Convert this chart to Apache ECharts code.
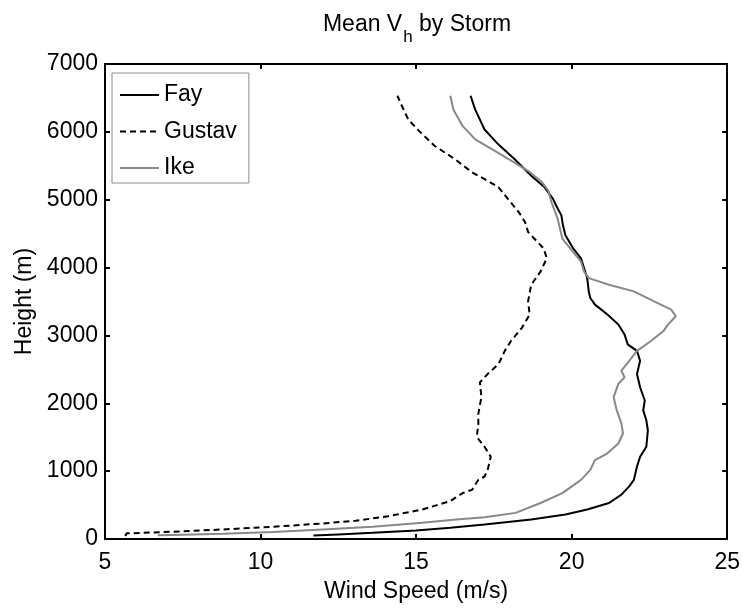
<!DOCTYPE html>
<html><head><meta charset="utf-8">
<script src="https://cdn.jsdelivr.net/npm/echarts@6/dist/echarts.min.js"></script>
<style>html,body{margin:0;padding:0;background:#fff}#c{width:743px;height:608px}</style>
</head><body><div id="c"></div>
<script>
const seriesNames = ['Fay', 'Gustav', 'Ike'];
const xTicks = [5, 10, 15, 20, 25];
const yTicks = [0, 1000, 2000, 3000, 4000, 5000, 6000, 7000];

const fayHeight = [50, 68, 93, 127, 166, 215, 288, 361, 434, 531, 653, 775, 872, 1067, 1213, 1359, 1603, 1749, 1895, 2041, 2236, 2431, 2626, 2772, 2869, 3015, 3162, 3308, 3454, 3551, 3648, 3844, 3990, 4136, 4282, 4476, 4623, 4769, 4915, 5012, 5183, 5353, 5597, 5816, 6035, 6327, 6532];
const fayWind = [11.7, 12.5, 13.6, 15.0, 16.1, 17.2, 18.7, 19.8, 20.5, 21.2, 21.6, 21.85, 22.0, 22.1, 22.2, 22.4, 22.45, 22.4, 22.3, 22.35, 22.2, 22.1, 22.2, 22.1, 21.8, 21.7, 21.5, 21.15, 20.75, 20.6, 20.55, 20.5, 20.4, 20.3, 20.05, 19.8, 19.72, 19.67, 19.5, 19.4, 19.13, 18.7, 18.17, 17.64, 17.2, 16.9, 16.75];

const gustavHeight = [44, 83, 107, 141, 180, 229, 268, 336, 434, 560, 677, 726, 872, 921, 1018, 1213, 1359, 1505, 1700, 1846, 2090, 2309, 2431, 2577, 2772, 2918, 3113, 3308, 3503, 3746, 3941, 4136, 4282, 4525, 4671, 4817, 5012, 5183, 5305, 5402, 5597, 5792, 6011, 6181, 6425, 6532];
const gustavWind = [5.65, 5.7, 7.2, 8.8, 10.4, 12.0, 13.05, 14.1, 15.2, 16.1, 16.5, 16.8, 17.0, 17.2, 17.3, 17.4, 17.2, 16.95, 17.0, 17.0, 17.1, 17.05, 17.3, 17.65, 17.85, 18.05, 18.4, 18.65, 18.6, 18.7, 19.0, 19.2, 19.1, 18.6, 18.5, 18.3, 17.95, 17.65, 17.2, 16.8, 16.25, 15.6, 15.1, 14.75, 14.5, 14.4];

const ikeHeight = [55, 60, 78, 102, 141, 180, 239, 285, 320, 385, 531, 677, 872, 1018, 1164, 1262, 1408, 1554, 1700, 1895, 2090, 2285, 2382, 2480, 2626, 2772, 2918, 3064, 3162, 3283, 3381, 3503, 3649, 3746, 3844, 3940, 4087, 4257, 4428, 4720, 4964, 5134, 5256, 5426, 5572, 5743, 5889, 6084, 6327, 6532];
const ikeWind = [6.7, 7.2, 8.8, 10.4, 12.0, 13.6, 15.2, 16.2, 17.2, 18.2, 19.0, 19.7, 20.3, 20.6, 20.75, 21.15, 21.5, 21.65, 21.6, 21.45, 21.35, 21.5, 21.7, 21.6, 21.85, 22.1, 22.55, 22.95, 23.1, 23.35, 23.2, 22.65, 22.0, 21.2, 20.55, 20.4, 20.3, 20.0, 19.7, 19.55, 19.35, 19.25, 19.05, 18.6, 18.07, 17.45, 16.9, 16.5, 16.2, 16.1];

function zip(w, h) { return w.map((v, i) => [v, h[i]]); }

const FONT = "'Liberation Sans', Arial, Helvetica, sans-serif";
const FS = 23;
const chart = echarts.init(document.getElementById('c'), null, {renderer: 'canvas'});

const axisLine = {show: true, onZero: false, lineStyle: {color: '#000', width: 2}};
const axisTick = {show: true, inside: true, length: 5, lineStyle: {color: '#000', width: 2}};

chart.setOption({
  animation: false,
  backgroundColor: '#fff',
  title: {
    text: '{a|Mean V}{s|h}{a| by Storm}',
    left: 417, top: 13, textAlign: 'center', padding: 0,
    textStyle: {
      fontWeight: 'normal',
      rich: {
        a: {fontFamily: FONT, fontSize: FS, lineHeight: FS, color: '#000', verticalAlign: 'top', fontWeight: 'normal'},
        s: {fontFamily: FONT, fontSize: 17, lineHeight: 17, color: '#000', verticalAlign: 'top', fontWeight: 'normal', padding: [16, 0, 0, 1]}
      }
    }
  },
  legend: {
    orient: 'vertical', left: 112, top: 73,
    data: seriesNames,
    itemWidth: 39, itemHeight: 14, itemGap: 10.5,
    padding: [9, 12, 2, 7],
    borderColor: '#8c8c8c', borderWidth: 1, backgroundColor: '#fff',
    itemStyle: {opacity: 0},
    lineStyle: {width: 2},
    textStyle: {fontFamily: FONT, fontSize: FS, lineHeight: 26, color: '#000'}
  },
  grid: {left: 105, right: 13, top: 64, bottom: 65, containLabel: false},
  xAxis: [{
    type: 'value', min: xTicks[0], max: xTicks[xTicks.length - 1], interval: 5, position: 'bottom',
    axisLine, axisTick, splitLine: {show: false},
    axisLabel: {color: '#000', fontFamily: FONT, fontSize: FS, margin: 12, formatter: v => String(v)},
    name: 'Wind Speed (m/s)', nameLocation: 'middle', nameGap: 41,
    nameTextStyle: {color: '#000', fontFamily: FONT, fontSize: FS}
  }, {
    type: 'value', min: xTicks[0], max: xTicks[xTicks.length - 1], interval: 5, position: 'top',
    axisLine, axisTick, splitLine: {show: false}, axisLabel: {show: false}
  }],
  yAxis: [{
    type: 'value', min: yTicks[0], max: yTicks[yTicks.length - 1], interval: 1000, position: 'left',
    axisLine, axisTick, splitLine: {show: false},
    axisLabel: {color: '#000', fontFamily: FONT, fontSize: FS, margin: 7, formatter: v => String(v)},
    name: 'Height (m)', nameLocation: 'middle', nameGap: 68,
    nameTextStyle: {color: '#000', fontFamily: FONT, fontSize: FS}
  }, {
    type: 'value', min: yTicks[0], max: yTicks[yTicks.length - 1], interval: 1000, position: 'right',
    axisLine, axisTick, splitLine: {show: false}, axisLabel: {show: false}
  }],
  series: [
    {name: 'Fay', type: 'line', data: zip(fayWind, fayHeight), symbol: 'none', showSymbol: false,
     lineStyle: {color: '#000', width: 2}, itemStyle: {color: '#000'}},
    {name: 'Gustav', type: 'line', data: zip(gustavWind, gustavHeight), symbol: 'none', showSymbol: false,
     lineStyle: {color: '#000', width: 2, type: [6, 4]}, itemStyle: {color: '#000'}},
    {name: 'Ike', type: 'line', data: zip(ikeWind, ikeHeight), symbol: 'none', showSymbol: false,
     lineStyle: {color: '#888', width: 2}, itemStyle: {color: '#888'}}
  ]
});
</script></body></html>
